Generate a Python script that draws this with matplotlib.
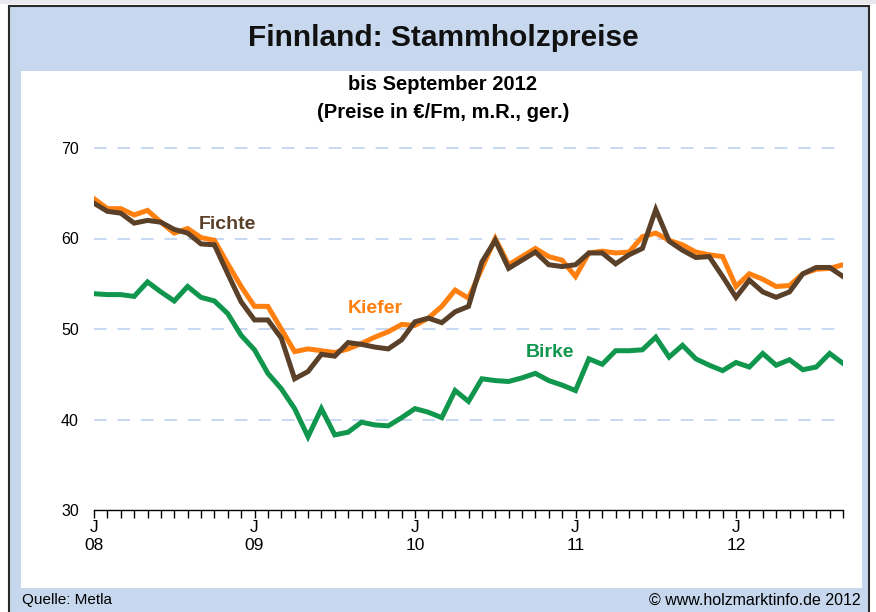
import matplotlib
matplotlib.use("Agg")
import matplotlib.pyplot as plt
from matplotlib.patches import Rectangle
from matplotlib import font_manager
import numpy as np

# ---------------- data ----------------
kiefer = [64.4, 63.3, 63.3, 62.6, 63.1, 61.8, 60.6, 61.1, 60.1, 59.8, 57.2, 54.7,
          52.5, 52.5, 50.0, 47.5, 47.8, 47.6, 47.4, 47.8, 48.4, 49.1, 49.7, 50.5,
          50.4, 51.2, 52.5, 54.3, 53.4, 56.7, 60.0, 57.1, 58.0, 58.9, 58.0, 57.6,
          55.8, 58.4, 58.6, 58.4, 58.5, 60.2, 60.6, 59.8, 59.3, 58.5, 58.2, 58.0,
          54.7, 56.1, 55.5, 54.7, 54.8, 56.1, 56.6, 56.7, 57.1]
fichte = [63.9, 63.0, 62.8, 61.7, 62.0, 61.8, 61.0, 60.6, 59.4, 59.3, 56.1, 53.0,
          51.0, 51.0, 49.0, 44.5, 45.3, 47.2, 47.0, 48.5, 48.3, 48.0, 47.8, 48.8,
          50.8, 51.2, 50.7, 51.9, 52.5, 57.4, 59.8, 56.7, 57.6, 58.5, 57.1, 56.9,
          57.1, 58.4, 58.4, 57.2, 58.2, 58.9, 63.2, 59.7, 58.7, 57.9, 58.0, 55.8,
          53.5, 55.4, 54.1, 53.5, 54.1, 56.1, 56.8, 56.8, 55.8]
birke = [53.9, 53.8, 53.8, 53.6, 55.2, 54.1, 53.1, 54.7, 53.5, 53.1, 51.7, 49.3,
         47.7, 45.1, 43.4, 41.2, 38.1, 41.2, 38.3, 38.6, 39.7, 39.4, 39.3, 40.2,
         41.2, 40.8, 40.2, 43.2, 42.0, 44.5, 44.3, 44.2, 44.6, 45.1, 44.3, 43.8,
         43.2, 46.7, 46.1, 47.6, 47.6, 47.7, 49.1, 46.9, 48.2, 46.7, 46.0, 45.4,
         46.3, 45.8, 47.3, 46.0, 46.6, 45.5, 45.8, 47.3, 46.2]
year_labels = ["08", "09", "10", "11", "12"]
y_ticks = [30, 40, 50, 60, 70]

# ---------------- fonts ----------------
avail = {f.name for f in font_manager.fontManager.ttflist}
narrow = "Liberation Sans Narrow" if "Liberation Sans Narrow" in avail else "Liberation Sans"
reg = "Liberation Sans"

W, H = 876, 612
fig = plt.figure(figsize=(W / 100, H / 100), dpi=100)
fig.patch.set_facecolor("white")

def px(x, y, w, h):
    return (x / W, 1 - (y + h) / H, w / W, h / H)

# outer frame
fig.patches.append(Rectangle((0, 1 - 4 / H), 1, 4 / H, transform=fig.transFigure,
                             facecolor="#E8E8EE", edgecolor="none", zorder=0))
x0, y0, w0, h0 = px(9, 6, 860, 620)
fig.patches.append(Rectangle((x0, y0), w0, h0, transform=fig.transFigure,
                             facecolor="#C6D7EE", edgecolor="#2A2A2A", linewidth=1.5, zorder=0))
x1, y1, w1, h1 = px(21, 71, 841, 517)
fig.patches.append(Rectangle((x1, y1), w1, h1, transform=fig.transFigure,
                             facecolor="white", edgecolor="none", zorder=0))

# axes: x from 94 to 843 px, y 30 at 510 px, 70 at 148 px
ax = fig.add_axes([94 / W, 1 - 510 / H, (843 - 94) / W, (510 - 148) / H])
ax.set_zorder(5)
ax.set_facecolor("none")
n = len(kiefer)
x = np.arange(n)
ax.set_xlim(0, n - 1)
ax.set_ylim(30, 70)

for v in y_ticks[1:]:
    ax.axhline(v, color="#C5D5F2", lw=1.3, dashes=(7, 6), zorder=1, clip_on=False)

ax.plot(x, birke, color="#11964E", lw=3.6, solid_joinstyle="miter", zorder=3)
ax.plot(x, kiefer, color="#FF7F0F", lw=3.6, solid_joinstyle="miter", zorder=3)
ax.plot(x, fichte, color="#5A4028", lw=3.6, solid_joinstyle="miter", zorder=4)

for s in ["left", "right", "top"]:
    ax.spines[s].set_visible(False)
ax.spines["bottom"].set_color("black")
ax.spines["bottom"].set_linewidth(1.0)

ax.set_yticks(y_ticks)
ax.set_yticklabels([str(v) for v in y_ticks], fontsize=11.5, family=narrow)
ax.tick_params(axis="y", length=0, pad=11)

ax.set_xticks(np.arange(0, n, 1), minor=True)
ax.set_xticks(np.arange(0, n, 12))
ax.set_xticklabels(["J\n" + yl for yl in year_labels], fontsize=12.5, family=narrow,
                   linespacing=1.25)
ax.tick_params(axis="x", which="both", direction="out", length=6, width=1, color="black", pad=1)

# series labels
ax.text(10.0, 61.6, "Fichte", color="#5A4028", fontsize=14, fontweight="bold",
        family=reg, ha="center", va="center", zorder=5)
ax.text(21.0, 52.3, "Kiefer", color="#FF7F0F", fontsize=14, fontweight="bold",
        family=reg, ha="center", va="center", zorder=5)
ax.text(34.1, 47.35, "Birke", color="#11964E", fontsize=14, fontweight="bold",
        family=reg, ha="center", va="center", zorder=5)

# titles
fig.text(443 / W, 1 - 38 / H, "Finnland: Stammholzpreise", fontsize=21.5, fontweight="bold",
         family=narrow, ha="center", va="center", color="#111111")
fig.text(443 / W, 1 - 84 / H, "bis September 2012", fontsize=14.5, fontweight="bold",
         family=narrow, ha="center", va="center", color="black")
fig.text(443 / W, 1 - 113 / H, "(Preise in €/Fm, m.R., ger.)", fontsize=14.5, fontweight="bold",
         family=narrow, ha="center", va="center", color="black")

# footer
fig.text(22 / W, 1 - 600 / H, "Quelle: Metla", fontsize=11, family=narrow,
         ha="left", va="center", color="black")
fig.text(861 / W, 1 - 600 / H, "© www.holzmarktinfo.de 2012", fontsize=11.5, family=narrow,
         ha="right", va="center", color="black")

fig.savefig("out.png", dpi=100)
